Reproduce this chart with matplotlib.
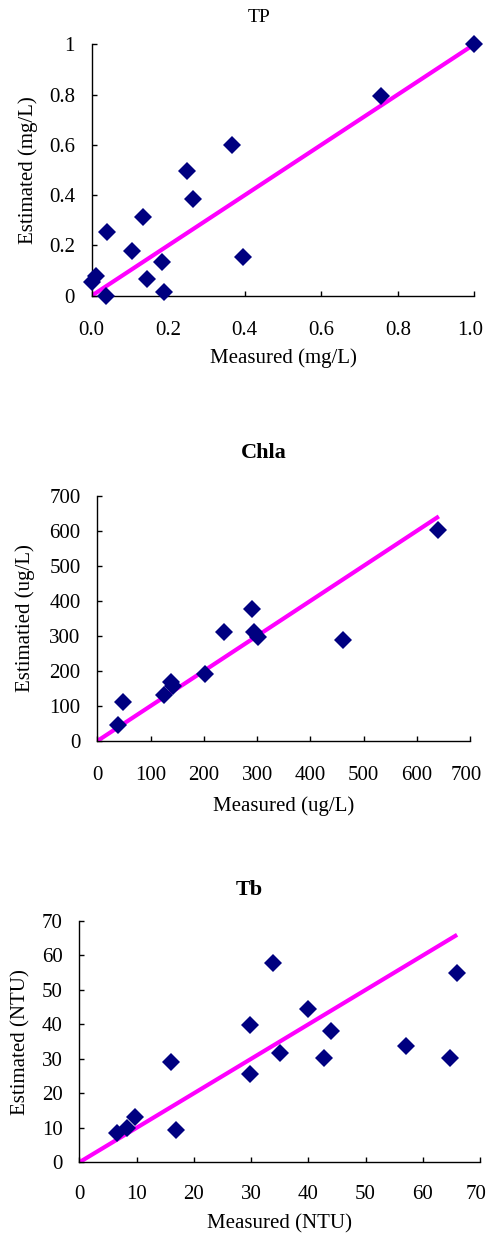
import numpy as np
import matplotlib
matplotlib.use("Agg")
import matplotlib.pyplot as plt
from matplotlib.transforms import ScaledTranslation

# TP (mg/L)
tp_measured = [0.0, 0.011, 0.037, 0.039, 0.106, 0.133, 0.145, 0.184, 0.19,
               0.25, 0.266, 0.367, 0.395, 0.755, 0.998]
tp_estimated = [0.056, 0.079, 0.0, 0.253, 0.176, 0.312, 0.067, 0.133, 0.015,
                0.498, 0.386, 0.60, 0.152, 0.795, 1.0]

# Chla (ug/L)
chla_measured = [39, 49, 126, 139, 142, 203, 238, 291, 294, 302, 461, 639]
chla_estimated = [46, 112, 131, 167, 158, 190, 310, 377, 312, 298, 287, 601]

# Tb (NTU)
tb_measured = [6.5, 8.3, 9.7, 16.0, 16.9, 29.9, 29.9, 33.8, 35.0, 40.0,
               42.7, 43.9, 57.0, 64.8, 65.9]
tb_estimated = [8.6, 9.9, 13.0, 29.0, 9.5, 39.8, 25.5, 57.7, 31.6, 44.5,
                30.2, 38.1, 33.8, 30.2, 54.8]

# 1:1 lines
tp_line = [0, 1.0]
chla_line = [0, 641]
tb_line = [0, 66]

plt.rcParams['font.family'] = ['Liberation Serif', 'DejaVu Serif']

W, H = 487, 1234
fig = plt.figure(figsize=(W / 100, H / 100), dpi=100)


def add_panel(box, mx, my, line, lim, ticks, xfmt, yfmt,
              xlabel, ylabel, title, title_xy, title_kw, xpad, ylabelpad, xlabelpad):
    left, top, right, bottom = box
    ax = fig.add_axes([left / W, 1 - bottom / H, (right - left) / W, (bottom - top) / H])
    ax.plot(line, line, color='#ff00ff', lw=3, solid_capstyle='butt', zorder=2)
    ax.plot(mx, my, 'D', color='#000080', ms=9, mew=0, zorder=3, clip_on=False)
    ax.set_xlim(*lim)
    ax.set_ylim(*lim)
    ax.set_xticks(ticks)
    ax.set_yticks(ticks)
    ax.set_xticklabels([xfmt(v) for v in ticks])
    ax.set_yticklabels([yfmt(v) for v in ticks])
    for s in ['top', 'right']:
        ax.spines[s].set_visible(False)
    for s in ['left', 'bottom']:
        ax.spines[s].set_linewidth(1.0)
    ax.tick_params(direction='in', length=3.5, width=1.0, labelsize=15)
    ax.tick_params(axis='x', pad=xpad)
    ax.tick_params(axis='y', pad=12)
    # last x label sits a little left of its tick, as in the original
    last = ax.get_xticklabels()[-1]
    last.set_transform(last.get_transform() + ScaledTranslation(-4 / 100, 0, fig.dpi_scale_trans))
    ax.set_xlabel(xlabel, fontsize=15, labelpad=xlabelpad)
    ax.set_ylabel(ylabel, fontsize=15, labelpad=ylabelpad)
    fig.text(title_xy[0] / W, 1 - title_xy[1] / H, title, ha='center', va='center', **title_kw)
    return ax


add_panel((91.7, 44.3, 474.3, 295.7), tp_measured, tp_estimated, tp_line,
          (0, 1.0), [0, 0.2, 0.4, 0.6, 0.8, 1.0],
          lambda v: f"{v:.1f}", lambda v: f"{v:g}",
          "Measured (mg/L)", "Estimated (mg/L)", "TP", (259, 18),
          dict(fontsize=14), 18, 8, 6)

add_panel((97.3, 495.7, 470.3, 741), chla_measured, chla_estimated, chla_line,
          (0, 700), list(range(0, 701, 100)),
          lambda v: f"{v}", lambda v: f"{v}",
          "Measured (ug/L)", "Estimatied (ug/L)", "Chla", (264, 453),
          dict(fontsize=16, fontweight='bold'), 18, 10, 8)

add_panel((79.3, 921, 480, 1162.3), tb_measured, tb_estimated, tb_line,
          (0, 70), list(range(0, 71, 10)),
          lambda v: f"{v}", lambda v: f"{v}",
          "Measured (NTU)", "Estimated (NTU)", "Tb", (249, 890),
          dict(fontsize=16, fontweight='bold'), 16, 8, 8)

fig.savefig("out.png", dpi=100)
